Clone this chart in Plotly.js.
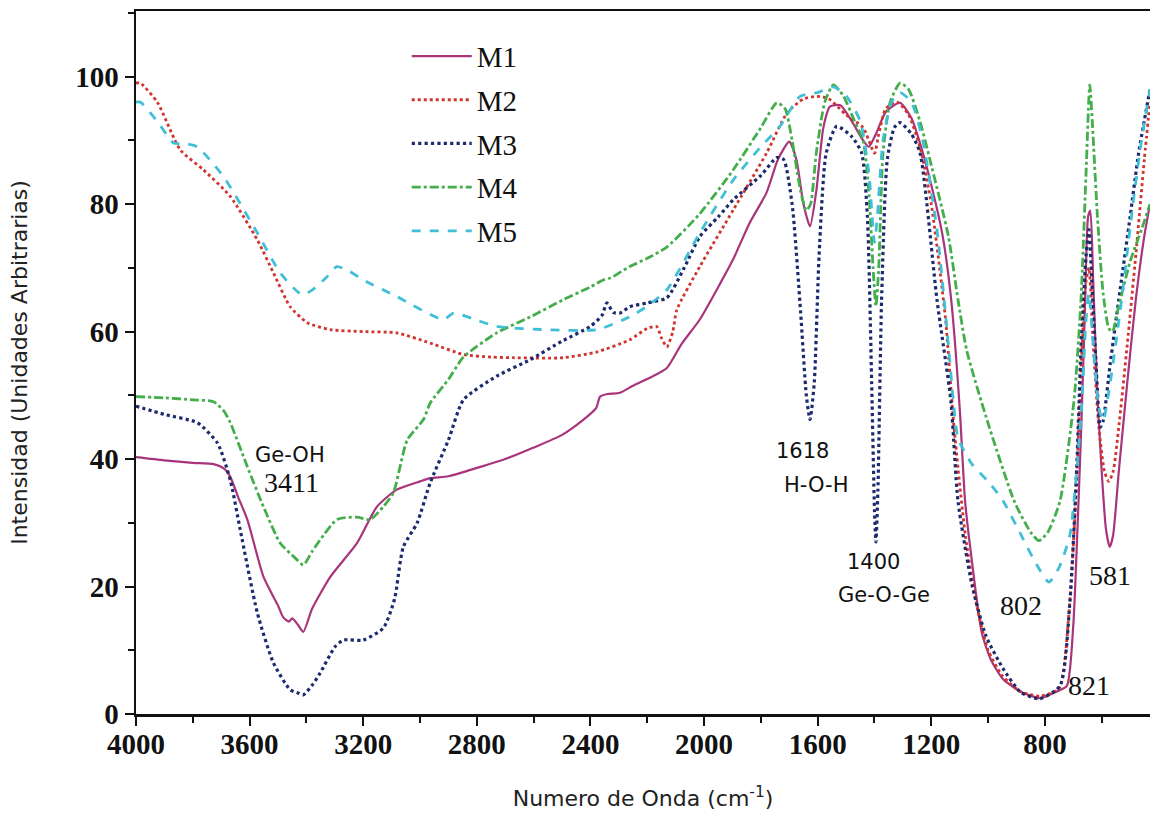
<!DOCTYPE html>
<html>
<head>
<meta charset="utf-8">
<script src="https://cdn.plot.ly/plotly-3.0.1.min.js"></script>
<style>html,body{margin:0;padding:0;background:#fff;}#chart{width:1150px;height:823px;}</style>
</head>
<body>
<div id="chart"></div>
<script>
// Wavenumbers (cm^-1) and intensities
const m1Wave = [4000,3900,3800,3727,3690,3668,3640,3608,3551,3500,3482,3462,3450,3430,3411,3380,3316,3222,3152,3082,3000,2964,2900,2822,2700,2600,2500,2430,2380,2366,2340,2296,2250,2180,2131,2080,2015,1950,1898,1840,1780,1740,1700,1675,1650,1627,1605,1580,1557,1520,1480,1440,1420,1395,1360,1310,1270,1240,1200,1160,1130,1100,1081,1057,1022,990,948,885,818,760,723,700,688,672,660,648,640,630,615,600,585,572,560,540,510,480,450,430];
const m1Int  = [40.3,39.8,39.4,39.2,38.5,37.2,34,30.5,21.5,17,15.2,14.5,15,14,12.9,16.5,21.5,26.8,32.5,35.2,36.5,37,37.3,38.3,40,41.8,43.8,46,48,49.8,50.2,50.4,51.5,53,54.3,58,61.9,67,71.3,77,81.8,87,89.8,87,80,76.5,82,92,95.3,95.5,93,90,89,91,94.5,95.9,93.5,89.6,83,75,65,48,33.4,24,12.7,8.5,5.5,3.5,2.5,3.5,4.4,14,26,45,62,78,79,68,50,38,29,26.2,28,38,52,65,75,80];

const m2Wave = [4000,3985,3925,3844,3763,3668,3573,3516,3457,3397,3316,3200,3082,2964,2847,2750,2672,2496,2378,2262,2200,2167,2150,2131,2110,2096,2015,1897,1780,1708,1650,1603,1560,1500,1440,1400,1385,1360,1320,1280,1240,1200,1150,1120,1080,1040,1000,950,885,818,750,715,690,672,655,645,630,610,590,575,560,540,510,480,450,430];
const m2Int  = [99,99,96,88.5,85.4,81.2,74.4,69.2,63.9,61.4,60.3,60,59.8,58.2,56.4,56,55.9,55.9,56.8,58.7,60.5,60.8,59,57.6,60,63.4,70.2,79.1,88,94.3,96.5,96.9,96.5,94,92,88,91,95,96,94,89,80,62,45,28,17,10,6,3.5,2.8,4,16,35,55,68,70,58,45,38,36.5,38,45,58,72,87,96];

const m3Wave = [4000,3900,3784,3713,3668,3633,3573,3516,3457,3430,3411,3380,3352,3300,3270,3200,3129,3090,3059,3010,2964,2900,2847,2730,2612,2500,2401,2360,2342,2320,2296,2262,2200,2131,2070,2015,1950,1897,1800,1744,1720,1690,1660,1640,1627,1612,1595,1570,1533,1480,1445,1425,1410,1400,1395,1388,1375,1355,1330,1310,1270,1240,1180,1131,1106,1057,1008,947,885,818,747,712,688,671,655,645,635,620,605,595,570,540,500,470,430];
const m3Int  = [48.3,47,45.7,42.5,36.7,28.9,15.9,8,3.8,3.3,3,4.5,6.4,10.5,11.6,11.6,13.5,18,26.2,30,36.3,43,49.3,53,55.6,58.5,60.8,62.5,64.5,63,62.9,63.9,64.5,65.3,70,74.9,78,80.7,84.5,87.3,87,80,63,50,46.2,52,72,88,92.2,90.6,88,78,52,32,27,35,65,87,92,92.8,91,88.1,65,49.1,33.4,20.3,12.3,7.1,3.4,2.4,4.4,17.6,38.6,59.7,72,76,68,55,45,46,55,65,78,88,98];

const m4Wave = [4000,3900,3800,3727,3690,3668,3608,3551,3492,3440,3411,3380,3352,3293,3222,3176,3130,3094,3045,2988,2964,2900,2847,2730,2612,2496,2400,2355,2330,2262,2200,2130,2015,1897,1800,1744,1715,1690,1660,1640,1625,1605,1575,1545,1510,1470,1440,1420,1405,1395,1385,1370,1345,1310,1280,1240,1205,1140,1106,1075,1007,908,850,821,790,747,698,673,655,642,632,615,595,575,562,540,500,460,430];
const m4Int  = [49.8,49.6,49.3,49,47.5,45.7,38.8,32.5,26.8,24.5,23.4,25.5,27.3,30.5,30.9,30.5,32.5,34.7,43,46.2,48.8,52.5,56,59.8,62.3,65,67,68.1,68.4,70.2,71.5,73.3,78.5,85.4,92,95.9,95,90,82,79,80,88,96,98.7,97,93,90,82,70,64,70,88,96,99,98,93,87,75,65,57,46.6,33.4,28.5,27.2,28.5,33.4,49,65,85,98.7,92,78,66,60.5,60,64,71,76,80];

const m5Wave = [4000,3985,3925,3868,3830,3785,3692,3573,3492,3416,3380,3330,3293,3250,3200,3082,2918,2882,2800,2730,2554,2378,2262,2200,2130,2015,1897,1800,1733,1662,1600,1545,1500,1450,1420,1400,1390,1370,1340,1310,1270,1230,1180,1140,1120,1106,1057,1000,947,884,830,786,750,712,673,655,645,630,610,595,570,530,490,460,430];
const m5Int  = [96,96,93,89.6,89.5,89,84.3,75.5,69.2,65.8,66.5,68.5,70.2,69.5,68.1,65.5,61.9,62.9,61.8,60.8,60.3,60.3,62.3,64,66.6,75.5,83.8,89,92.2,96.9,97.5,98.4,97,93,85,74,78,90,96,97.5,96,90,76,58,48,43.3,39.2,36.5,33.4,28.1,23.5,20.7,23,28.1,46.6,62,66,58,48,46,52,65,80,90,98];

const seriesNames = ['M1','M2','M3','M4','M5'];
const xTickVals = [4000,3600,3200,2800,2400,2000,1600,1200,800];
const yTickVals = [0,20,40,60,80,100];

const waves = [m1Wave,m2Wave,m3Wave,m4Wave,m5Wave];
const ints = [m1Int,m2Int,m3Int,m4Int,m5Int];
const colors = ['#a8347c','#d0342c','#1c2a6e','#44ad4c','#41bfd6'];
const dashes = ['solid','dot','dot','dashdot','dash'];
const widths = [2.2,2.8,3.2,2.8,2.8];

const traces = seriesNames.map((n,i)=>({
  type:'scatter', mode:'lines', name:n, x:waves[i], y:ints[i],
  legendgroup:n,
  line:{color:colors[i], dash:dashes[i], width:widths[i], shape:'spline', smoothing:0.6}
}));

const serif = 'Liberation Serif, Times New Roman, serif';
const sans = 'DejaVu Sans, Liberation Sans, sans-serif';

const annText = [
  {t:'Ge-OH', w:3457, v:40.7, f:sans, s:21},
  {t:'3411', w:3452, v:36.3, f:serif, s:28},
  {t:'1618', w:1655, v:41.3, f:sans, s:21},
  {t:'H-O-H', w:1605, v:36, f:sans, s:21},
  {t:'1400', w:1403, v:23.9, f:sans, s:21},
  {t:'Ge-O-Ge', w:1367, v:18.7, f:sans, s:21},
  {t:'802', w:884, v:17.1, f:serif, s:28},
  {t:'581', w:572, v:21.8, f:serif, s:28},
  {t:'821', w:645, v:4.4, f:serif, s:28}
];

const layout = {
  width:1150, height:823,
  margin:{l:136, r:0, t:11, b:109},
  paper_bgcolor:'#fff', plot_bgcolor:'#fff',
  showlegend:true,
  legend:{x:0.267, y:0.972, xanchor:'left', yanchor:'top', bgcolor:'rgba(0,0,0,0)',
    font:{family:serif, size:29, color:'#111'}, traceorder:'grouped', tracegroupgap:3, itemwidth:60},
  xaxis:{
    range:[4000,430], tickvals:xTickVals, ticktext:xTickVals.map(String),
    ticks:'outside', ticklen:9, tickwidth:2, tickcolor:'#111',
    minor:{dtick:200, ticks:'outside', ticklen:6, tickwidth:2, tickcolor:'#111'},
    showline:true, linecolor:'#111', linewidth:2.5, mirror:true,
    showgrid:false, zeroline:false,
    tickfont:{family:serif, size:29, color:'#111', weight:'bold'},
    ticklabelstandoff:-6,
    title:{text:'Numero de Onda (cm<sup>-1</sup>)', font:{family:sans, size:22, color:'#222'}, standoff:32}
  },
  yaxis:{
    range:[0,110.3], tickvals:yTickVals, ticktext:yTickVals.map(String),
    ticks:'outside', ticklen:9, tickwidth:2, tickcolor:'#111',
    minor:{dtick:10, ticks:'outside', ticklen:6, tickwidth:2, tickcolor:'#111'},
    showline:true, linecolor:'#111', linewidth:2.5, mirror:false,
    showgrid:false, zeroline:false,
    tickfont:{family:serif, size:29, color:'#111', weight:'bold'},
    title:{text:'Intensidad (Unidades Arbitrarias)', font:{family:sans, size:22, color:'#222'}, standoff:42}
  },
  annotations: annText.map(a=>({x:a.w, y:a.v, xref:'x', yref:'y', text:a.t, showarrow:false,
    font:{family:a.f, size:a.s, color:'#111'}}))
};

Plotly.newPlot('chart', traces, layout, {displayModeBar:false, staticPlot:true});
</script>
</body>
</html>
